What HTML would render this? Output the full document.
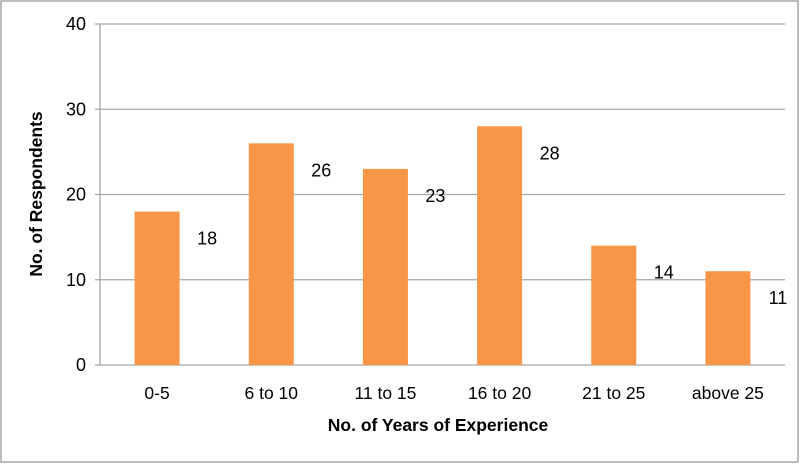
<!DOCTYPE html>
<html><head><meta charset="utf-8"><style>
body{margin:0;background:#fff}
svg{display:block;font-family:"Liberation Sans",Calibri,sans-serif}
</style></head><body>
<svg id="chart" width="800" height="464">
<rect x="1" y="1" width="797" height="461" fill="#fff" stroke="#a6a6a6" stroke-width="1.5"/>
<g id="grid"></g><g id="bars"></g><g id="labels"></g>
<text x="438" y="431" text-anchor="middle" font-size="17.5" font-weight="bold" fill="#000">No. of Years of Experience</text>
<text transform="translate(42,194) rotate(-90)" text-anchor="middle" font-size="17.5" font-weight="bold" fill="#000">No. of Respondents</text>
</svg>
<script>
const categories=["0-5","6 to 10","11 to 15","16 to 20","21 to 25","above 25"];
const values=[18,26,23,28,14,11];
const yTicks=[0,10,20,30,40];
const NS="http://www.w3.org/2000/svg";
const L=100,R=785,T=24,B=365,yMax=40;
const y=v=>B-(v/yMax)*(B-T);
const bw=(R-L)/categories.length;
const xc=i=>L+bw*(i+0.5);
function mk(tag,attrs,parent,text){const e=document.createElementNS(NS,tag);for(const k in attrs)e.setAttribute(k,attrs[k]);if(text!==undefined)e.textContent=text;parent.appendChild(e);return e;}
const grid=document.getElementById('grid'),bars=document.getElementById('bars'),labels=document.getElementById('labels');
yTicks.forEach(t=>{
  const ln=mk('line',{x1:95,x2:R,y1:y(t),y2:y(t),stroke:'#a6a6a6','stroke-width':1.3},grid);
  
  
  const tx=mk('text',{x:86,y:y(t)+6,'text-anchor':'end','font-size':18,fill:'#000'},grid,String(t));
  
  
});
const ax=mk('line',{x1:L,x2:L,y1:T,y2:B,stroke:'#a6a6a6','stroke-width':1.3},grid);


categories.forEach((c,i)=>{
  const v=values[i];
  const r=mk('rect',{x:xc(i)-22.5,y:y(v),width:45,height:B-y(v),fill:'#f79646'},bars);
  
  
  const vl=mk('text',{x:xc(i)+50,y:y(v)+33,'text-anchor':'middle','font-size':18,fill:'#000'},labels,String(v));
  
  
  const cl=mk('text',{x:xc(i),y:399,'text-anchor':'middle','font-size':17.5,fill:'#000'},labels,c);
  
  
});
</script>
</body></html>
